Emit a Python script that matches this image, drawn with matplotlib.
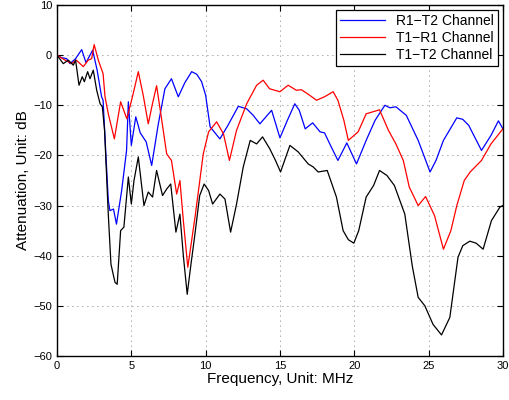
import matplotlib.pyplot as plt

plt.rcParams['font.family'] = ['Liberation Sans', 'DejaVu Sans']

# R1-T2 channel (blue)
freqBlue = [0, 0.3, 0.65, 0.87, 1.25, 1.66, 1.95, 2.4, 2.7, 3.0, 3.1, 3.45, 3.56, 3.8, 4.0,
            4.35, 4.68, 4.8, 5.0, 5.3, 5.6, 6.0, 6.37, 6.8, 7.26, 7.7, 8.16, 8.6, 9.06, 9.4,
            9.73, 10.0, 10.3, 10.96, 11.5, 12.2, 12.76, 13.2, 13.65, 14.0, 14.44, 15.0, 15.5,
            16.0, 16.3, 16.7, 17.2, 17.7, 18.0, 18.4, 18.9, 19.5, 20.15, 20.8, 21.4, 22.06,
            22.4, 22.8, 23.5, 24.3, 25.1, 25.5, 26.0, 26.9, 27.3, 27.7, 28.56, 29.2, 29.7, 30]
attBlue = [0, -0.5, -0.7, -1.7, -0.7, 1.1, -1.5, 1.0, -3, -8.3, -9, -29, -31, -30.7, -33.7,
           -27, -19, -9.3, -18, -12.3, -15.5, -17.3, -22, -14, -6.7, -4.7, -8.3, -5.5, -3.3, -3.8,
           -5.3, -8, -14.3, -16.7, -14, -10.2, -10.7, -12, -13.7, -12.5, -11, -16.5, -13,
           -9.7, -11, -14.7, -13.5, -15.3, -15.5, -18, -21, -17.5, -21.7, -17, -13, -10,
           -10.5, -10.3, -12, -17, -23.3, -21, -17, -12.5, -12.8, -14, -19, -16, -13.1, -14.7]

# T1-R1 channel (red)
freqRed = [0, 0.54, 0.99, 1.3, 1.77, 2.1, 2.33, 2.5, 2.78, 3.1, 3.23, 3.45, 3.86, 4.28, 4.7,
           5.1, 5.47, 5.8, 6.14, 6.4, 6.7, 7.0, 7.38, 7.7, 8.05, 8.27, 8.5, 8.8, 9.3, 9.84,
           10.2, 10.74, 11.2, 11.6, 12.08, 12.76, 13.43, 13.87, 14.3, 15.0, 15.55, 16.1, 16.45,
           17.0, 17.46, 18.0, 18.58, 18.9, 19.3, 19.6, 20.26, 20.8, 21.7, 22.3, 22.8, 23.3,
           23.7, 24.3, 24.8, 25.4, 26.0, 26.5, 26.9, 27.4, 27.8, 28.56, 29.2, 30]
attRed = [0, -1, -1.7, -1, -2.3, -1, -0.7, 2.1, -1, -3.7, -8.3, -11.7, -16.7, -9.3, -12.7,
          -8, -3.3, -8, -13.7, -10, -6.1, -12, -19.7, -21, -27.7, -25, -33, -42.3, -32, -19.7,
          -15.3, -13.3, -15.7, -21, -15, -9.7, -6, -5, -6.7, -7.3, -6, -7, -6.9,
          -8, -9, -8.3, -7.3, -9, -13, -17, -15.3, -11.7, -10.9, -15, -17.7, -21,
          -26.3, -30, -28.2, -32, -38.7, -35, -30, -25, -23.3, -21, -17.7, -14.7]

# T1-T2 channel (black)
freqBlack = [0, 0.42, 0.76, 1.1, 1.25, 1.48, 1.7, 1.84, 2.06, 2.22, 2.44, 2.67, 2.9, 3.05, 3.2,
             3.45, 3.63, 3.9, 4.05, 4.28, 4.5, 4.8, 5.0, 5.18, 5.47, 5.85, 6.14, 6.43, 6.7, 7.1,
             7.38, 7.65, 8.0, 8.27, 8.5, 8.76, 9.0, 9.28, 9.6, 9.9, 10.2, 10.47, 10.96, 11.3,
             11.68, 12.08, 12.53, 13.0, 13.43, 13.83, 14.32, 14.7, 15.04, 15.67, 16.23, 16.9,
             17.24, 17.57, 18.18, 18.8, 19.25, 19.6, 19.97, 20.3, 20.8, 21.3, 21.7, 22.2, 22.7,
             23.4, 23.9, 24.3, 24.75, 25.3, 25.87, 26.43, 26.98, 27.3, 27.77, 28.2, 28.67, 29.23,
             29.8, 30]
attBlack = [0, -1.7, -1, -2, -1, -6, -4.3, -5.3, -3.3, -4.7, -3, -7, -9.7, -10.3, -15,
            -31.7, -41.7, -45.3, -45.7, -35, -34.3, -24.3, -29.7, -25, -20.3, -30, -27.3, -28.3, -23, -28,
            -26.7, -25.7, -35.3, -31.7, -40, -47.7, -42, -35.7, -28, -25.7, -27, -29.7, -27.7, -28.7,
            -35.3, -29.7, -22.3, -17, -17.7, -16.3, -18.7, -21, -23.3, -18, -19.3, -21.7,
            -22.3, -23.3, -23, -28.3, -35, -36.8, -37.5, -35, -28.3, -26, -23, -24, -26,
            -31.7, -42, -48.3, -50, -53.7, -55.8, -52.3, -40.3, -38, -37.1, -37.5, -38.7, -33,
            -30.3, -30]

labels = ["R1\u2212T2 Channel", "T1\u2212R1 Channel", "T1\u2212T2 Channel"]
xTicks = [0, 5, 10, 15, 20, 25, 30]
yTicks = [-60, -50, -40, -30, -20, -10, 0, 10]

fig = plt.figure(figsize=(5.09, 4.0), dpi=100)
ax = fig.add_axes([0.112, 0.11, 0.876, 0.8775])

ax.plot(freqBlue, attBlue, color="blue", lw=0.9, label=labels[0])
ax.plot(freqRed, attRed, color="red", lw=0.9, label=labels[1])
ax.plot(freqBlack, attBlack, color="black", lw=0.9, label=labels[2])

ax.set_xlim(0, 30)
ax.set_ylim(-60, 10)
ax.set_xticks(xTicks)
ax.set_yticks(yTicks)
ax.tick_params(direction="in", labelsize=8, top=True, right=True, length=4)
ax.grid(True, linestyle=(0, (1, 5)), color="#555555", lw=0.6)
for s in ax.spines.values():
    s.set_linewidth(1.0)

ax.set_xlabel("Frequency, Unit: MHz", fontsize=11, labelpad=1)
ax.set_ylabel("Attenuation, Unit: dB", fontsize=11, labelpad=2)

leg = ax.legend(loc="upper right", fontsize=10, handlelength=3.2, fancybox=False,
                framealpha=1, edgecolor="black", borderpad=0.3, labelspacing=0.2,
                borderaxespad=0.35)
leg.get_frame().set_linewidth(0.9)

fig.savefig("out.png", dpi=100)
